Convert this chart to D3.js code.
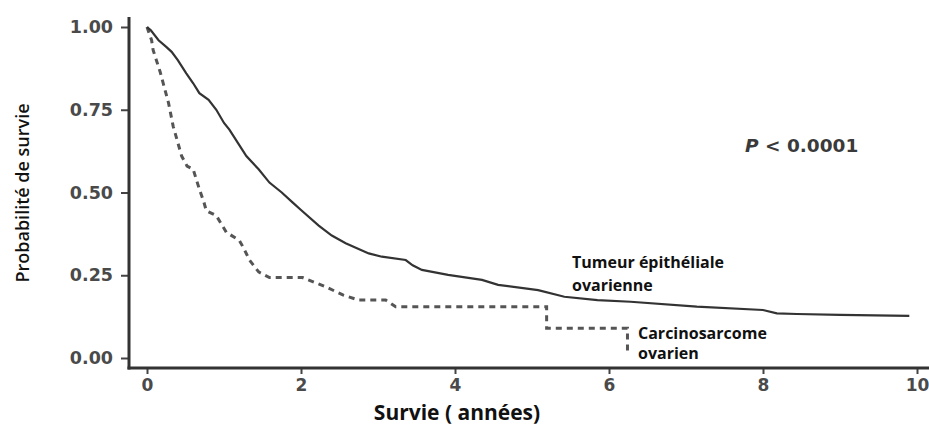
<!DOCTYPE html>
<html>
<head>
<meta charset="utf-8">
<script src="https://cdn.jsdelivr.net/npm/d3@7"></script>
<style>
  html, body { margin: 0; padding: 0; background: #fff; }
  svg { display: block; }
</style>
</head>
<body>
<div id="chart"></div>
<script>
// courbe de survie - tumeur epitheliale (annees, probabilite)
const epiTimes = [0, 0.05, 0.15, 0.25, 0.32, 0.40, 0.51, 0.60, 0.68, 0.80, 0.90, 1.00, 1.07, 1.18, 1.29, 1.45, 1.59, 1.75, 1.89, 2.00, 2.23, 2.40, 2.58, 2.88, 3.05, 3.36, 3.45, 3.57, 3.91, 4.35, 4.56, 5.08, 5.42, 5.85, 6.28, 7.14, 8.00, 8.18, 8.44, 9.00, 9.90];
const epiSurv  = [1.00, 0.99, 0.96, 0.94, 0.925, 0.90, 0.86, 0.83, 0.80, 0.78, 0.75, 0.71, 0.69, 0.65, 0.61, 0.57, 0.53, 0.50, 0.47, 0.447, 0.40, 0.37, 0.347, 0.316, 0.306, 0.296, 0.28, 0.266, 0.251, 0.236, 0.221, 0.205, 0.185, 0.175, 0.170, 0.155, 0.145, 0.135, 0.133, 0.130, 0.127];

// carcinosarcome
const carTimes = [0, 0.06, 0.08, 0.17, 0.28, 0.34, 0.45, 0.52, 0.60, 0.68, 0.74, 0.77, 0.90, 1.03, 1.20, 1.26, 1.33, 1.45, 1.59, 2.02, 2.32, 2.55, 2.75, 3.10, 3.23, 5.19, 5.19, 6.24, 6.24];
const carSurv  = [1.00, 0.96, 0.93, 0.865, 0.77, 0.70, 0.61, 0.58, 0.57, 0.51, 0.47, 0.445, 0.43, 0.38, 0.355, 0.33, 0.296, 0.26, 0.243, 0.243, 0.215, 0.19, 0.175, 0.175, 0.155, 0.155, 0.09, 0.09, 0.01];

const xTicks = [0, 2, 4, 6, 8, 10];
const yTicks = [0, 0.25, 0.5, 0.75, 1.0];

const width = 929;
const height = 427;

const svg = d3.select("#chart").append("svg")
  .attr("width", width)
  .attr("height", height);

const x = d3.scaleLinear().domain([0, 10]).range([147, 917]);
const y = d3.scaleLinear().domain([0, 1]).range([358, 27]);

const axisY = 368;   // position de l'axe x
const axisX = 129;   // position de l'axe y

// Axe Y
const yAxis = d3.axisLeft(y)
  .tickValues(yTicks)
  .tickFormat(d3.format(".2f"))
  .tickSize(8)
  .tickPadding(8);
const gy = svg.append("g")
  .attr("transform", `translate(${axisX},0)`)
  .call(yAxis);
gy.select(".domain").remove();
gy.selectAll(".tick line").attr("stroke", "#444").attr("stroke-width", 2);
gy.selectAll(".tick text")
  .attr("fill", "#4a4a4a")
  .style("font-family", "'DejaVu Sans', sans-serif")
  .style("font-weight", "bold")
  .style("font-size", "17.5px");

// Axe X
const xAxis = d3.axisBottom(x)
  .tickValues(xTicks)
  .tickSize(6)
  .tickPadding(5);
const gx = svg.append("g")
  .attr("transform", `translate(0,${axisY})`)
  .call(xAxis);
gx.select(".domain").remove();
gx.selectAll(".tick line").attr("stroke", "#444").attr("stroke-width", 2);
gx.selectAll(".tick text")
  .attr("fill", "#4a4a4a")
  .style("font-family", "'DejaVu Sans', sans-serif")
  .style("font-weight", "bold")
  .style("font-size", "17px");

// lignes des axes
svg.append("line")
  .attr("x1", axisX).attr("x2", axisX)
  .attr("y1", y(1.03)).attr("y2", axisY + 1.5)
  .attr("stroke", "#333").attr("stroke-width", 3);
svg.append("line")
  .attr("x1", axisX - 1.5).attr("x2", width)
  .attr("y1", axisY).attr("y2", axisY)
  .attr("stroke", "#333").attr("stroke-width", 3);

// Courbes
const line = d3.line().x(d => x(d[0])).y(d => y(d[1]));

svg.append("path")
  .datum(carTimes.map((t, i) => [t, carSurv[i]]))
  .attr("d", line)
  .attr("fill", "none")
  .attr("stroke", "#555")
  .attr("stroke-width", 3)
  .attr("stroke-dasharray", "6,5");

svg.append("path")
  .datum(epiTimes.map((t, i) => [t, epiSurv[i]]))
  .attr("d", line)
  .attr("fill", "none")
  .attr("stroke", "#333")
  .attr("stroke-width", 2.2);

// Textes
svg.append("text")
  .attr("x", 745).attr("y", 152)
  .attr("fill", "#3a3a3a")
  .style("font-family", "'DejaVu Sans', sans-serif")
  .style("font-weight", "bold")
  .style("font-size", "18.5px")
  .html("<tspan font-style='italic'>P</tspan> &lt; 0.0001");

const labelFont = "'Open Sans', sans-serif";
function label(txt, lx, ly) {
  svg.append("text")
    .attr("x", lx).attr("y", ly)
    .attr("fill", "#111")
    .style("font-family", labelFont)
    .style("font-weight", "bold")
    .style("font-size", "16px")
    .text(txt);
}
label("Tumeur épithéliale", 572, 268);
label("ovarienne", 572, 291);
label("Carcinosarcome", 638, 339);
label("ovarien", 638, 359);

svg.append("text")
  .attr("x", 457).attr("y", 420)
  .attr("text-anchor", "middle")
  .attr("fill", "#111")
  .style("font-family", labelFont)
  .style("font-weight", "bold")
  .style("font-size", "21px")
  .text("Survie ( années)");

svg.append("text")
  .attr("transform", "translate(29,193) rotate(-90)")
  .attr("text-anchor", "middle")
  .attr("fill", "#111")
  .style("font-family", labelFont)
  .style("font-weight", "600")
  .style("font-size", "18px")
  .text("Probabilité de survie");
</script>
</body>
</html>
